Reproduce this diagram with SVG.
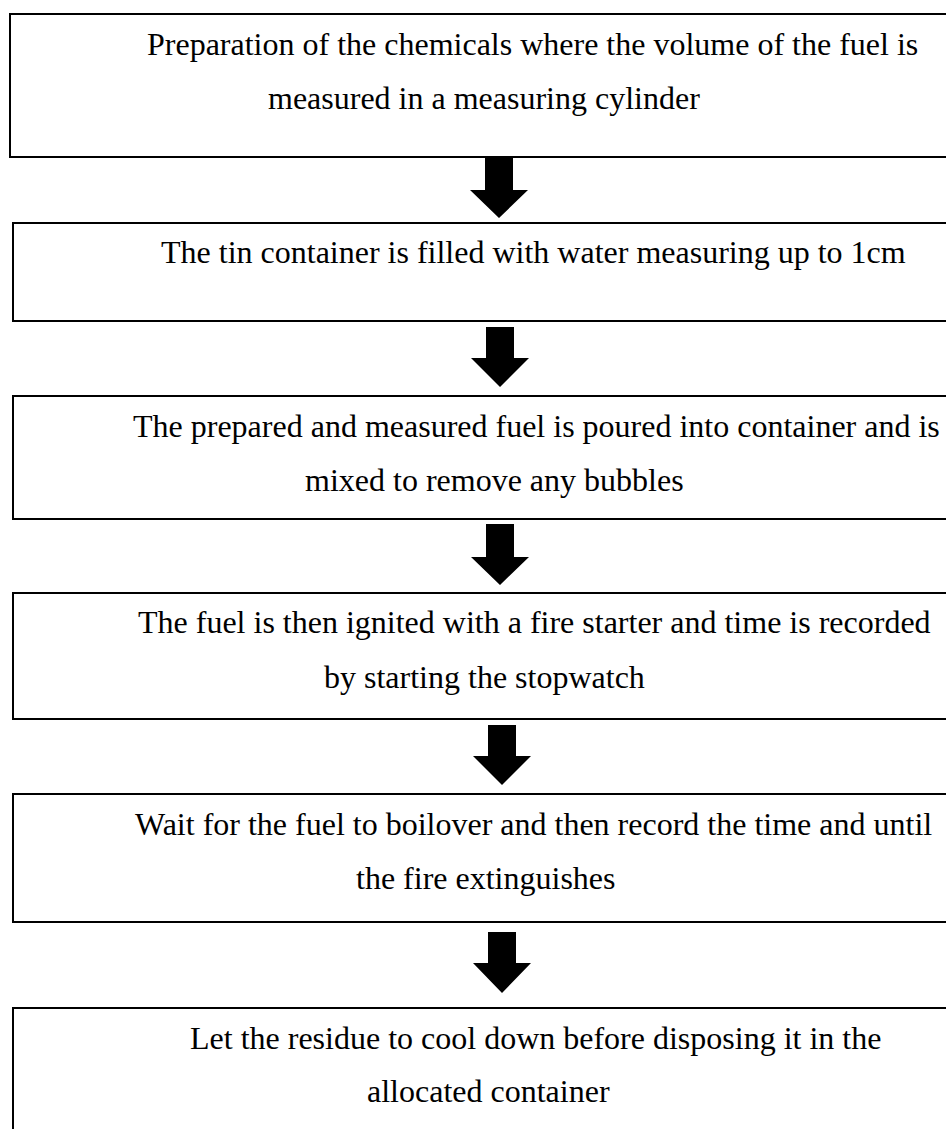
<svg xmlns="http://www.w3.org/2000/svg" width="946" height="1129" viewBox="0 0 946 1129">
<style>
.box{fill:#ffffff;stroke:#000000;stroke-width:2}
.t{font-family:"Liberation Serif","Times New Roman",serif;font-size:32px;fill:#000000}
.arr{fill:#000000;stroke:none}
</style>
<rect x="0" y="0" width="946" height="1129" fill="#ffffff"/>
<g id="node1">
<rect class="box" x="10" y="14" width="960" height="143"/>
<text class="t" x="147" y="55">Preparation of the chemicals where the volume of the fuel is</text>
<text class="t" x="268" y="109">measured in a measuring cylinder</text>
</g>
<g id="node2">
<rect class="box" x="13" y="223" width="960" height="98"/>
<text class="t" x="161" y="263">The tin container is filled with water measuring up to 1cm</text>
</g>
<g id="node3">
<rect class="box" x="13" y="396" width="960" height="123"/>
<text class="t" x="133" y="437">The prepared and measured fuel is poured into container and is</text>
<text class="t" x="305" y="491">mixed to remove any bubbles</text>
</g>
<g id="node4">
<rect class="box" x="13" y="593" width="960" height="126"/>
<text class="t" x="138" y="633">The fuel is then ignited with a fire starter and time is recorded</text>
<text class="t" x="324" y="688">by starting the stopwatch</text>
</g>
<g id="node5">
<rect class="box" x="13" y="794" width="960" height="128"/>
<text class="t" x="135" y="835">Wait for the fuel to boilover and then record the time and until</text>
<text class="t" x="356" y="889">the fire extinguishes</text>
</g>
<g id="node6">
<rect class="box" x="13" y="1008" width="960" height="160"/>
<text class="t" x="190" y="1049">Let the residue to cool down before disposing it in the</text>
<text class="t" x="367" y="1102">allocated container</text>
</g>
<g id="connectors">
<polygon class="arr" points="485,158 513,158 513,190 528,190 499,218 470,190 485,190"/>
<polygon class="arr" points="486,327 514,327 514,358 529,358 500,387 471,358 486,358"/>
<polygon class="arr" points="486,524 514,524 514,557 529,557 500,585 471,557 486,557"/>
<polygon class="arr" points="488,725 516,725 516,756 531,756 502,785 473,756 488,756"/>
<polygon class="arr" points="488,932 516,932 516,963 531,963 502,993 473,963 488,963"/>
</g>
</svg>
